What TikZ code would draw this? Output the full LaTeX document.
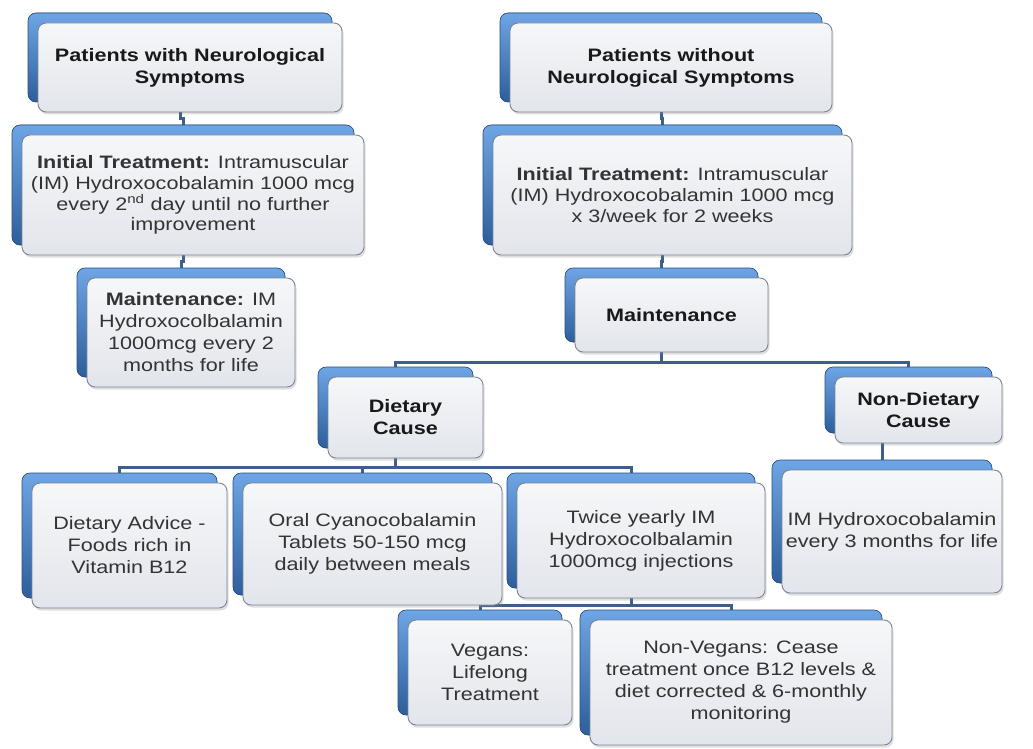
\documentclass[tikz,border=0pt]{standalone}
\usepackage{fontspec}
\setmainfont{Liberation Sans}[FakeStretch=1.2]
\usetikzlibrary{shadows,backgrounds}

\definecolor{backtop}{HTML}{6EA5E4}
\definecolor{backbot}{HTML}{2E5E9C}
\definecolor{backline}{HTML}{2A4F82}
\definecolor{facetop}{HTML}{F6F7F9}
\definecolor{facebot}{HTML}{E2E5EB}
\definecolor{faceline}{HTML}{7C8592}
\definecolor{linkcol}{HTML}{3D5F8C}
\definecolor{txtcol}{HTML}{333333}

\tikzset{
  box/.style={rounded corners=8pt, draw=faceline, line width=0.9pt,
    top color=facetop, bottom color=facebot, align=center, text=txtcol,
    inner sep=2pt, font=\fontsize{18}{22}\selectfont,
    copy shadow={shadow xshift=-10pt, shadow yshift=10pt,
      top color=backtop, bottom color=backbot, draw=backline, line width=0.6pt},
    drop shadow={shadow xshift=1.5pt, shadow yshift=-2.5pt, opacity=0.25}},
  head/.style={box, text=black!90, font=\fontsize{18}{22}\selectfont\bfseries},
  tight/.style={font=\fontsize{18}{20.7}\selectfont},
  link/.style={draw=linkcol, line width=3pt}
}

\begin{document}
\begin{tikzpicture}[x=1pt, y=-1pt]
    \useasboundingbox (0,0) rectangle (1033,749);

    % Draw the boxes: left branch
    \node[head, minimum width=304pt, minimum height=89pt]  (pwn) at (190,67.5) {Patients with Neurological\\Symptoms};
    \node[box, tight, minimum width=342pt, minimum height=120pt] (it1) at (193,195)
        {\textbf{Initial Treatment:} Intramuscular\\(IM) Hydroxocobalamin 1000 mcg\\every 2\textsuperscript{nd} day until no further\\improvement};
    \node[box, minimum width=208pt, minimum height=109pt]  (ml) at (191,332.5)
        {\textbf{Maintenance:} IM\\Hydroxocolbalamin\\1000mcg every 2\\months for life};

    % Draw the boxes: right branch
    \node[head, minimum width=322pt, minimum height=89pt]  (pwo) at (671,67.5) {Patients without\\Neurological Symptoms};
    \node[box, tight, minimum width=359pt, minimum height=120pt] (it2) at (672.5,195)
        {\textbf{Initial Treatment:} Intramuscular\\(IM) Hydroxocobalamin 1000 mcg\\x 3/week for 2 weeks};
    \node[head, minimum width=193pt, minimum height=74pt]  (mr) at (671.5,315) {Maintenance};
    \node[head, minimum width=155pt, minimum height=81pt]  (dc) at (405.5,417.5) {Dietary\\Cause};
    \node[head, minimum width=167pt, minimum height=66pt]  (nd) at (918.5,410) {Non-Dietary\\Cause};

    % Draw the boxes: treatments
    \node[box, minimum width=195pt, minimum height=125pt]  (adv) at (129.5,545.5) {Dietary Advice -\\Foods rich in\\Vitamin B12};
    \node[box, minimum width=259pt, minimum height=122pt]  (oral) at (372.5,544) {Oral Cyanocobalamin\\Tablets 50-150 mcg\\daily between meals};
    \node[box, minimum width=248pt, minimum height=115pt]  (twice) at (641,540.5) {Twice yearly IM\\Hydroxocolbalamin\\1000mcg injections};
    \node[box, minimum width=220pt, minimum height=123pt]  (imh) at (892,531.5) {IM Hydroxocobalamin\\every 3 months for life};
    \node[box, minimum width=164pt, minimum height=105pt]  (veg) at (490,672.5) {Vegans:\\Lifelong\\Treatment};
    \node[box, minimum width=302pt, minimum height=125pt]  (nonv) at (741,682.5)
        {Non-Vegans: Cease\\treatment once B12 levels \&\\diet corrected \& 6-monthly\\monitoring};

    % Connect the boxes
    \begin{scope}[on background layer]
        \fill[white] (0,0) rectangle (1033,749);
        \draw[link] ([xshift=-10pt]pwn.south) -- ++(0,6) -| ([shift={(-10pt,10pt)}]it1.north);
        \draw[link] ([xshift=-10pt]it1.south) -- ++(0,6) -| ([shift={(-10pt,10pt)}]ml.north);
        \draw[link] ([xshift=-10pt]pwo.south) -- ++(0,6) -| ([shift={(-10pt,10pt)}]it2.north);
        \draw[link] ([xshift=-10pt]it2.south) -- ++(0,6) -| ([shift={(-10pt,10pt)}]mr.north);
        \draw[link] ([xshift=-10pt]mr.south) -- ++(0,10) coordinate (mrj) -| ([shift={(-10pt,10pt)}]dc.north);
        \draw[link] (mrj) -| ([shift={(-10pt,10pt)}]nd.north);
        \draw[link] ([xshift=-10pt]dc.south) -- ++(0,9) coordinate (dcj) -| ([shift={(-10pt,10pt)}]adv.north);
        \draw[link] (dcj) -| ([shift={(-10pt,10pt)}]oral.north);
        \draw[link] (dcj) -| ([shift={(-10pt,10pt)}]twice.north);
        \draw[link] ([xshift=-10pt]imh.north |- nd.south) -- ([shift={(-10pt,10pt)}]imh.north);
        \draw[link] ([xshift=-10pt]twice.south) -- ++(0,7) coordinate (twj) -| ([shift={(-10pt,10pt)}]veg.north);
        \draw[link] (twj) -| ([shift={(-10pt,10pt)}]nonv.north);
    \end{scope}
\end{tikzpicture}
\end{document}
